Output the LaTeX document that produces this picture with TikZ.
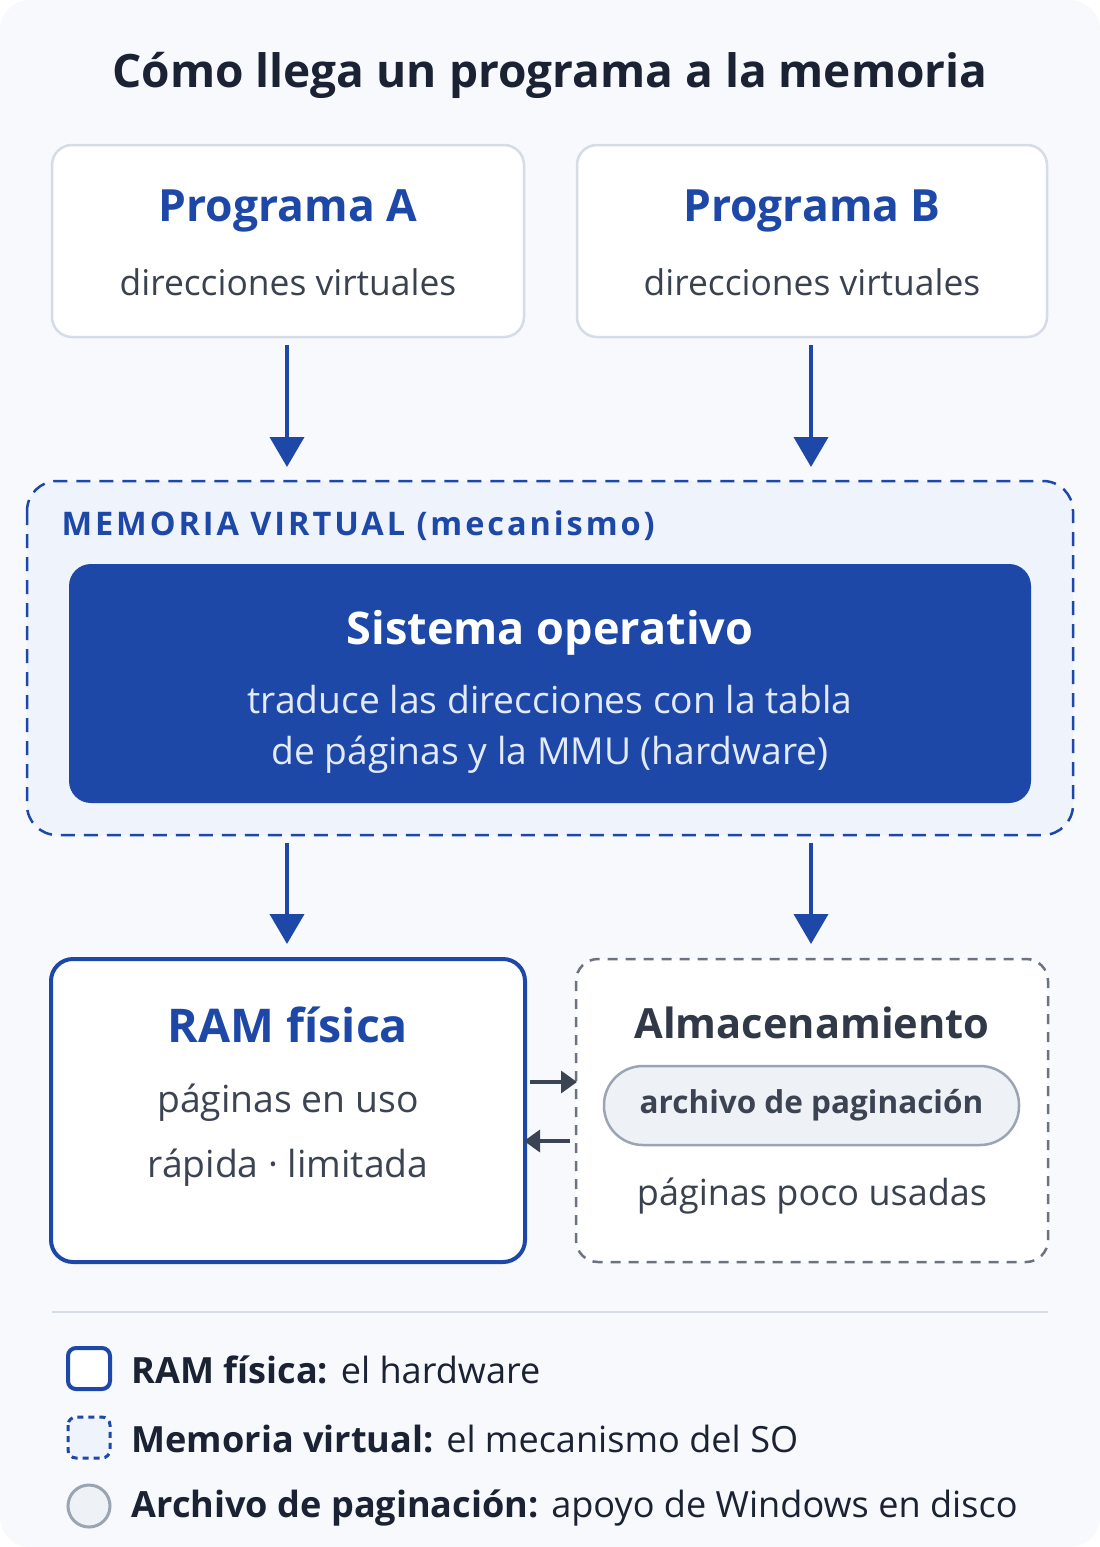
\documentclass[tikz,border=0pt]{standalone}
\usepackage{fontspec}
\setmainfont{Open Sans}
\usetikzlibrary{arrows.meta}
\definecolor{bg}{HTML}{F7F9FC}
\definecolor{blu}{HTML}{1E48A8}
\definecolor{bord}{HTML}{D5DCE6}
\definecolor{txt}{HTML}{3A4250}
\definecolor{dark}{HTML}{1A2233}
\definecolor{vm}{HTML}{EEF3FC}
\definecolor{gr}{HTML}{6B7380}
\definecolor{pill}{HTML}{EEF2F7}
\definecolor{pillb}{HTML}{9AA4B2}
\definecolor{soft}{HTML}{E3EAFB}
\tikzset{
 x=1pt,y=-1pt,
 card/.style={draw=bord,line width=2.5pt,fill=white,rounded corners=20pt},
 flow/.style={draw=blu,line width=4pt,-{Triangle[width=34pt,length=30pt]}},
 small/.style={draw=dark!85,line width=3.5pt,-{Triangle[width=22pt,length=16pt]}},
 ttl/.style={font=\fontsize{44.4}{50}\selectfont\bfseries,text=blu},
 sub/.style={font=\fontsize{35.4}{40}\selectfont,text=txt},
}
\begin{document}
\begin{tikzpicture}
\useasboundingbox (0,0) rectangle (1100,1547);
\fill[bg,rounded corners=30pt] (0,0) rectangle (1100,1547);
\node[font=\fontsize{46}{50}\selectfont\bfseries,text=dark] (title) at (550,75) {Cómo llega un programa a la memoria};
% top cards
\draw[card] (52,145) rectangle (524,337);
\draw[card] (577,145) rectangle (1047,337);
\node[ttl] (pa) at (288,211) {Programa A};
\node[sub] (pav) at (288,282) {direcciones virtuales};
\node[ttl] (pb) at (812,211) {Programa B};
\node[sub] (pbv) at (812,282) {direcciones virtuales};
\coordinate (a1) at (287,345); \coordinate (a2) at (287,467);
\coordinate (b1) at (811,345); \coordinate (b2) at (811,467);
\draw[flow] (a1) -- (a2);
\draw[flow] (b1) -- (b2);
% VM
\draw[draw=blu,line width=2.5pt,dash pattern=on 14pt off 9pt,fill=vm,rounded corners=30pt] (27,481) rectangle (1073,835);
\node[anchor=west,font=\fontsize{32.5}{36}\selectfont\bfseries\addfontfeatures{LetterSpace=9},text=blu] (vml) at (58,526) {MEMORIA VIRTUAL (mecanismo)};
\fill[blu,rounded corners=22pt] (69,564) rectangle (1031,803);
\node[font=\fontsize{45}{50}\selectfont\bfseries,text=white] (so) at (550,633) {Sistema operativo};
\node[font=\fontsize{37.2}{40}\selectfont,text=soft] (so1) at (550,700) {traduce las direcciones con la tabla};
\node[font=\fontsize{37.2}{40}\selectfont,text=soft] (so2) at (550,755) {de páginas y la MMU (hardware)};
\coordinate (c1) at (287,843); \coordinate (c2) at (287,944);
\coordinate (d1) at (811,843); \coordinate (d2) at (811,944);
\draw[flow] (c1) -- (c2);
\draw[flow] (d1) -- (d2);
% RAM
\draw[draw=blu,line width=4pt,fill=white,rounded corners=22pt] (51,959) rectangle (525,1262);
\node[font=\fontsize{46.5}{50}\selectfont\bfseries,text=blu] (ram) at (288,1025) {RAM física};
\node[font=\fontsize{37.3}{40}\selectfont,text=dark!85] (ram1) at (288,1103) {páginas en uso};
\node[font=\fontsize{37.3}{40}\selectfont,text=dark!85] (ram2) at (288,1168) {rápida · limitada};
% storage
\draw[draw=gr,line width=2.5pt,dash pattern=on 10pt off 8pt,fill=white,rounded corners=22pt] (576,959) rectangle (1048,1262);
\node[font=\fontsize{41.6}{48}\selectfont\bfseries,text=dark!90] (alm) at (812,1023) {Almacenamiento};
\node[draw=pillb,line width=2.5pt,fill=pill,rounded corners=39pt,minimum width=415pt,minimum height=79pt,font=\fontsize{31.5}{36}\selectfont\bfseries,text=dark!85] (pag) at (811.5,1105.5) {archivo de paginación};
\node[font=\fontsize{36}{40}\selectfont,text=txt] (poco) at (812,1196) {páginas poco usadas};
\coordinate (e1) at (530,1082); \coordinate (e2) at (577,1082);
\coordinate (f1) at (570,1141); \coordinate (f2) at (524,1141);
\draw[small] (e1) -- (e2);
\draw[small] (f1) -- (f2);
% legend
\draw[bord,line width=2.5pt] (52,1312) -- (1048,1312);
\draw[blu,line width=4pt,rounded corners=8pt,fill=white] (68,1348) rectangle (110,1389);
\draw[blu,line width=3pt,dash pattern=on 6pt off 5pt,rounded corners=8pt,fill=vm] (68,1417) rectangle (110,1458);
\draw[pillb,line width=3pt,fill=pill] (89,1506) circle (21pt);
\node[anchor=west,font=\fontsize{36.1}{40}\selectfont,text=dark] (l1) at (128,1370) {\textbf{RAM física:} el hardware};
\node[anchor=west,font=\fontsize{36.1}{40}\selectfont,text=dark] (l2) at (128,1439) {\textbf{Memoria virtual:} el mecanismo del SO};
\node[anchor=west,font=\fontsize{36.1}{40}\selectfont,text=dark] (l3) at (128,1508) {\textbf{Archivo de paginación:} apoyo de Windows en disco};
\end{tikzpicture}
\end{document}
